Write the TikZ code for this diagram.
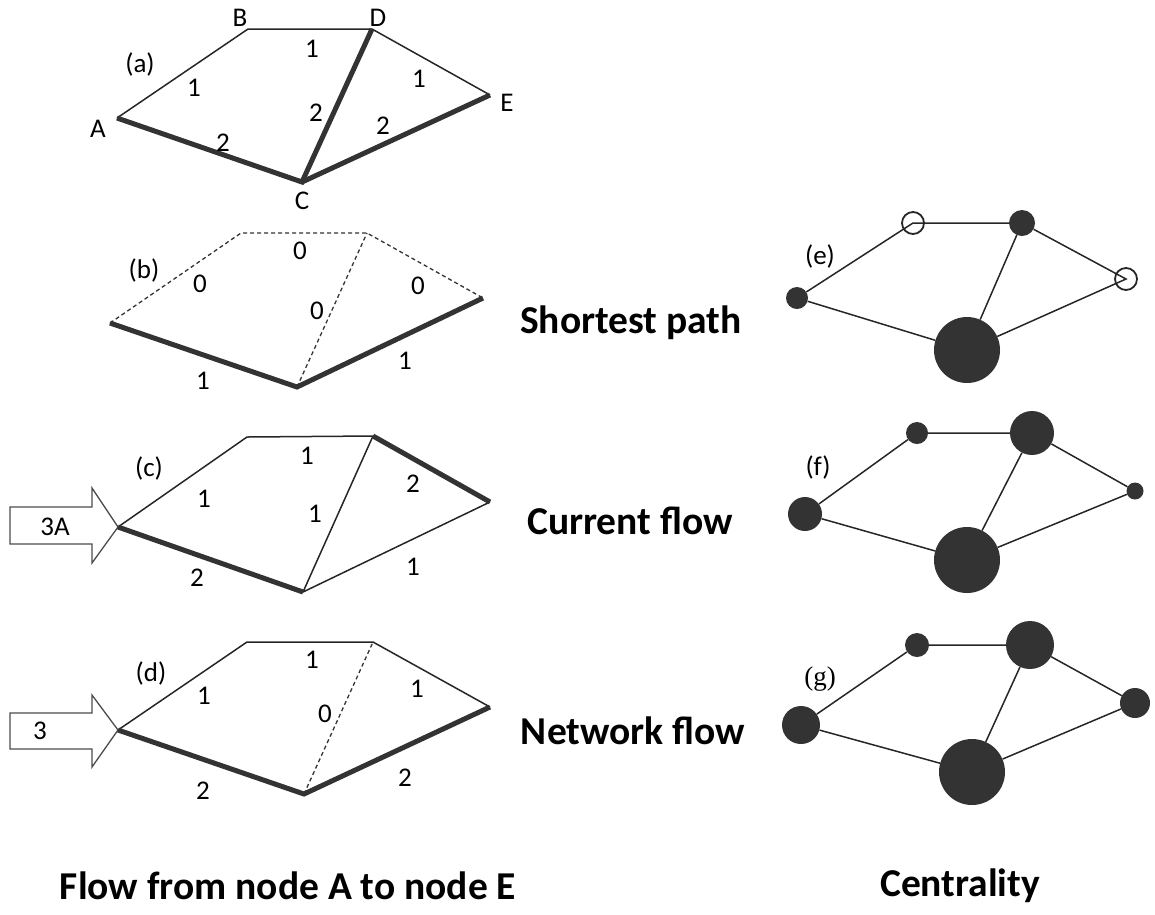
\documentclass[tikz,border=0pt]{standalone}
\usepackage{fontspec}
\setmainfont{Carlito}
\newfontfamily\serifg{Liberation Serif}
\tikzset{
    every node/.style={align=center,inner sep=0pt,font=\fontsize{27}{32}\selectfont},
    edge/.style={line width=1.5pt,black!85},
    heavy/.style={line width=5pt,black!80},
    nil/.style={line width=1.3pt,black!80,dash pattern=on 4pt off 3pt},
    title/.style={font=\fontsize{39.5}{46}\selectfont\bfseries},
    hub/.style={circle,fill=black!80,inner sep=0pt},
    hollow/.style={circle,draw=black!85,line width=1.8pt,inner sep=0pt},
    inflow/.style={draw=black!70,line width=1.3pt,fill=white},
}

\begin{document}
\begin{tikzpicture}[x=1pt,y=-1pt]
    \useasboundingbox (0,0) rectangle (1155,914);

    % (a) edge lengths
    \coordinate (aA) at (117,118);
    \coordinate (aB) at (248,29);
    \coordinate (aD) at (372,29);
    \coordinate (aE) at (490,95);
    \coordinate (aC) at (302,182);
    \node (la) at (140,64) {(a)};
    \node (nA) at (98,129) {A};
    \node (nB) at (240,18) {B};
    \node (nD) at (378,18) {D};
    \node (nE) at (507,103) {E};
    \node (nC) at (302,201) {C};
    \draw[edge] (aA) -- (aB) -- (aD) -- (aE);
    \draw[heavy] (aA) -- (aC) -- (aD);
    \draw[heavy] (aC) -- (aE);
    \node at (194,88) {1};
    \node at (223,143) {2};
    \node at (312,49) {1};
    \node at (316,113) {2};
    \node at (419,79) {1};
    \node at (383,126) {2};

    % (b) shortest path
    \coordinate (bA) at (110,323);
    \coordinate (bB) at (241,233);
    \coordinate (bD) at (367,233);
    \coordinate (bE) at (483,298);
    \coordinate (bC) at (297,387);
    \node (lb) at (144,270) {(b)};
    \draw[nil] (bA) -- (bB) -- (bD) -- (bE);
    \draw[nil] (bC) -- (bD);
    \draw[heavy] (bA) -- (bC) -- (bE);
    \node at (200,284) {0};
    \node at (300,251) {0};
    \node at (317,311) {0};
    \node at (418,286) {0};
    \node at (203,381) {1};
    \node at (405,361) {1};

    % (c) current flow
    \coordinate (cA) at (118,527);
    \coordinate (cB) at (247,437);
    \coordinate (cD) at (373,436);
    \coordinate (cE) at (490,502);
    \coordinate (cC) at (303,592);
    \node (lc) at (149,468) {(c)};
    \draw[inflow] (cA) -- (92,488) -- (92,507) -- (10,507) -- (10,544)
        -- (92,544) -- (92,563) -- cycle;
    \node (in3A) at (55,527) {3A};
    \draw[edge] (cA) -- (cB) -- (cD) -- (cC) -- (cE);
    \draw[heavy] (cA) -- (cC);
    \draw[heavy] (cD) -- (cE);
    \node at (204,499) {1};
    \node at (307,456) {1};
    \node at (315,514) {1};
    \node at (413,484) {2};
    \node at (197,578) {2};
    \node at (413,567) {1};

    % (d) network flow
    \coordinate (dA) at (118,730);
    \coordinate (dB) at (247,642);
    \coordinate (dD) at (373,642);
    \coordinate (dE) at (490,707);
    \coordinate (dC) at (304,794);
    \node (ld) at (151,673) {(d)};
    \draw[inflow] (dA) -- (92,695) -- (92,713) -- (10,713) -- (10,749)
        -- (92,749) -- (92,767) -- cycle;
    \node (in3) at (40,731) {3};
    \draw[edge] (dA) -- (dB) -- (dD) -- (dE);
    \draw[nil] (dC) -- (dD);
    \draw[heavy] (dA) -- (dC) -- (dE);
    \node at (204,696) {1};
    \node at (312,660) {1};
    \node at (325,714) {0};
    \node at (417,689) {1};
    \node at (203,791) {2};
    \node at (405,778) {2};

    % (e) shortest path centrality
    \node (le) at (820,256) {(e)};
    \node[hub,minimum size=22pt] (eA) at (797,298) {};
    \node[hollow,minimum size=22pt] (eB) at (913,223) {};
    \node[hub,minimum size=26pt] (eD) at (1022,223) {};
    \node[hollow,minimum size=22pt] (eE) at (1126,279) {};
    \node[hub,minimum size=66pt] (eC) at (967,350) {};
    \draw[edge] (eA) -- (eB.center) -- (eD) -- (eE.center) -- (eC) -- (eA);
    \draw[edge] (eC) -- (eD);

    % (f) current flow centrality
    \node (lf) at (818,467) {(f)};
    \node[hub,minimum size=34pt] (fA) at (805,514) {};
    \node[hub,minimum size=22pt] (fB) at (917,433) {};
    \node[hub,minimum size=44pt] (fD) at (1032,433) {};
    \node[hub,minimum size=17pt] (fE) at (1135,491) {};
    \node[hub,minimum size=66pt] (fC) at (967,560) {};
    \draw[edge] (fA) -- (fB) -- (fD) -- (fE) -- (fC) -- (fA);
    \draw[edge] (fC) -- (fD);

    % (g) network flow centrality
    \node[font=\fontsize{27}{32}\selectfont\serifg] (lg) at (820,679) {(g)};
    \node[hub,minimum size=38pt] (gA) at (801,725) {};
    \node[hub,minimum size=24pt] (gB) at (917,645) {};
    \node[hub,minimum size=48pt] (gD) at (1030,645) {};
    \node[hub,minimum size=30pt] (gE) at (1135,703) {};
    \node[hub,minimum size=66pt] (gC) at (972,772) {};
    \draw[edge] (gA) -- (gB) -- (gD) -- (gE) -- (gC) -- (gA);
    \draw[edge] (gC) -- (gD);

    % captions
    \node[title] (tsp) at (631,323) {Shortest path};
    \node[title] (tcf) at (630,521) {Current flow};
    \node[title] (tnf) at (633,731) {Network flow};
    \node[title] (tae) at (288,886) {Flow from node A to node E};
    \node[title] (tce) at (960,886) {Centrality};
\end{tikzpicture}
\end{document}
